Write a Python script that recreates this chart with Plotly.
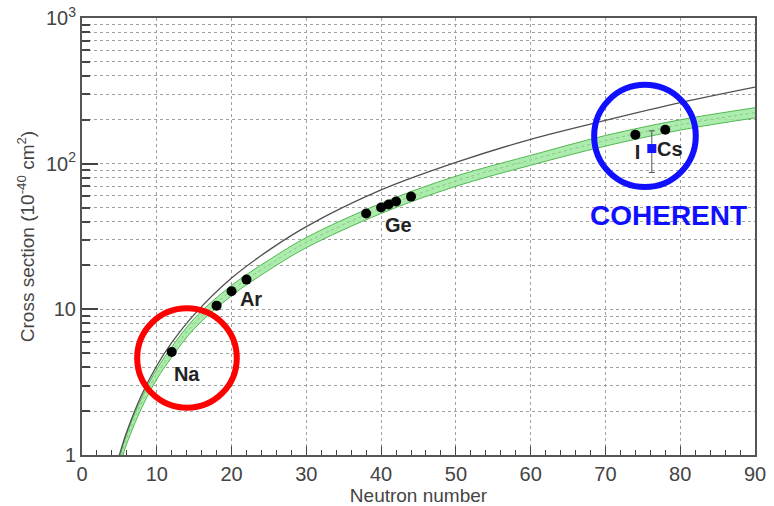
import plotly.graph_objects as go

# Theory curve without nuclear form factor (thin black line)
n_line = [4, 5, 6, 8, 10, 12, 15, 20, 25, 30, 40, 50, 60, 70, 80, 90]
xs_line = [0.65, 1.0, 1.45, 2.6, 4.1, 5.9, 9.2, 16.4, 25.5, 37.0, 66.0, 102.0, 147.0, 198.0, 262.0, 335.0]

# Standard Model prediction band (green)
n_band = [4, 5.3, 6, 8, 10, 12, 15, 20, 25, 30, 40, 50, 60, 70, 80, 90]
band_lo = [0.54, 0.93, 1.20, 2.12, 3.31, 4.69, 7.36, 12.4, 18.6, 26.5, 45.5, 69.9, 97.5, 132.0, 170.0, 206.0]
band_mid = [0.58, 1.0, 1.30, 2.30, 3.60, 5.10, 8.00, 13.5, 20.2, 28.8, 49.5, 76.0, 106.0, 144.0, 185.0, 224.0]
band_hi = [0.63, 1.08, 1.40, 2.48, 3.89, 5.51, 8.64, 14.6, 21.8, 31.1, 53.5, 82.1, 114.0, 156.0, 200.0, 242.0]

# Target nuclei (neutron number, predicted cross section)
targets_n = [12, 18, 20, 22, 38, 40, 41, 42, 44, 74, 78]
targets_xs = [5.1, 10.6, 13.3, 16.0, 45.5, 50.0, 52.4, 55.0, 59.4, 158.0, 171.0]

# Element labels
elem_names = ["Na", "Ar", "Ge", "I", "Cs"]
elem_n = [14.0, 22.6, 42.3, 74.3, 78.6]
elem_xs = [3.5, 11.4, 36.6, 116.0, 123.0]

# COHERENT measurement on CsI
coh_n = [76.2]
coh_xs = [127.0]
coh_err_up = [41.0]
coh_err_dn = [40.0]

FONT = "Liberation Sans"

fig = go.Figure()

fig.add_trace(go.Scatter(x=n_band, y=band_lo, mode="lines",
                         line=dict(color="rgb(80,185,80)", width=1, shape="spline"),
                         hoverinfo="skip", showlegend=False))
fig.add_trace(go.Scatter(x=n_band, y=band_hi, mode="lines", fill="tonexty",
                         fillcolor="rgba(160,232,160,0.85)",
                         line=dict(color="rgb(80,185,80)", width=1, shape="spline"),
                         hoverinfo="skip", showlegend=False))
fig.add_trace(go.Scatter(x=n_band, y=band_mid, mode="lines",
                         line=dict(color="rgba(90,190,90,0.6)", width=1, dash="dot", shape="spline"),
                         hoverinfo="skip", showlegend=False))
fig.add_trace(go.Scatter(x=n_line, y=xs_line, mode="lines",
                         line=dict(color="#505050", width=1.3, shape="spline"),
                         showlegend=False))
fig.add_trace(go.Scatter(x=targets_n, y=targets_xs, mode="markers",
                         marker=dict(color="black", size=10), showlegend=False))
fig.add_trace(go.Scatter(x=coh_n, y=coh_xs, mode="markers",
                         marker=dict(color="#1414ff", size=9, symbol="square"),
                         error_y=dict(type="data", symmetric=False, array=coh_err_up,
                                      arrayminus=coh_err_dn, color="#555555",
                                      thickness=1, width=3),
                         showlegend=False))
fig.add_trace(go.Scatter(x=elem_n, y=elem_xs, mode="text", text=elem_names,
                         textfont=dict(family=FONT, size=20, color="#222222"),
                         texttemplate="<b>%{text}</b>", showlegend=False))

# Highlight circles
fig.add_shape(type="circle", xref="paper", yref="paper",
              x0=0.082, x1=0.230, y0=0.108, y1=0.336,
              line=dict(color="#ff0000", width=6))
fig.add_shape(type="circle", xref="paper", yref="paper",
              x0=0.761, x1=0.912, y0=0.613, y1=0.847,
              line=dict(color="#1010ff", width=6))

fig.add_annotation(text="<b>COHERENT</b>", xref="paper", yref="paper",
                   x=0.872, y=0.548, xanchor="center", yanchor="middle", showarrow=False,
                   font=dict(family=FONT, size=28, color="#1010ff"))

minor_y = [m * d for d in (1, 10, 100) for m in range(2, 10)]

fig.update_xaxes(range=[0, 90], tickvals=list(range(0, 91, 10)), automargin=False,
                 ticks="inside", ticklen=9, tickcolor="#444", tickwidth=1,
                 showline=True, linecolor="#555", linewidth=2, mirror=True,
                 showgrid=True, gridcolor="#a0a0a0", griddash="dot", gridwidth=1,
                 zeroline=False,
                 minor=dict(dtick=2, ticks="inside", ticklen=5, tickcolor="#444", showgrid=False),
                 tickfont=dict(family=FONT, size=20, color="#444"),
                 title=dict(text="Neutron number", standoff=4,
                            font=dict(family=FONT, size=19, color="#444")))
fig.update_yaxes(type="log", range=[0, 3], tickvals=[1, 10, 100, 1000], automargin=False,
                 ticktext=["1", "10", "10<sup>2</sup>", "10<sup>3</sup>"],
                 ticks="inside", ticklen=16, tickcolor="#444", tickwidth=2,
                 showline=True, linecolor="#555", linewidth=2, mirror=True,
                 showgrid=True, gridcolor="#a0a0a0", griddash="dot", gridwidth=1,
                 minor=dict(tickmode="array", tickvals=minor_y, ticks="inside", ticklen=8,
                            tickcolor="#444", tickwidth=1.5, showgrid=True,
                            gridcolor="#a0a0a0", griddash="dot", gridwidth=1),
                 tickfont=dict(family=FONT, size=20, color="#444"),
                 title=dict(text="Cross section (10<sup>-40</sup> cm<sup>2</sup>)", standoff=6,
                            font=dict(family=FONT, size=19, color="#444")))

fig.update_layout(width=774, height=506, paper_bgcolor="white", plot_bgcolor="white",
                  margin=dict(l=82, r=19, t=18, b=51), showlegend=False)

fig.write_html("out.html")
